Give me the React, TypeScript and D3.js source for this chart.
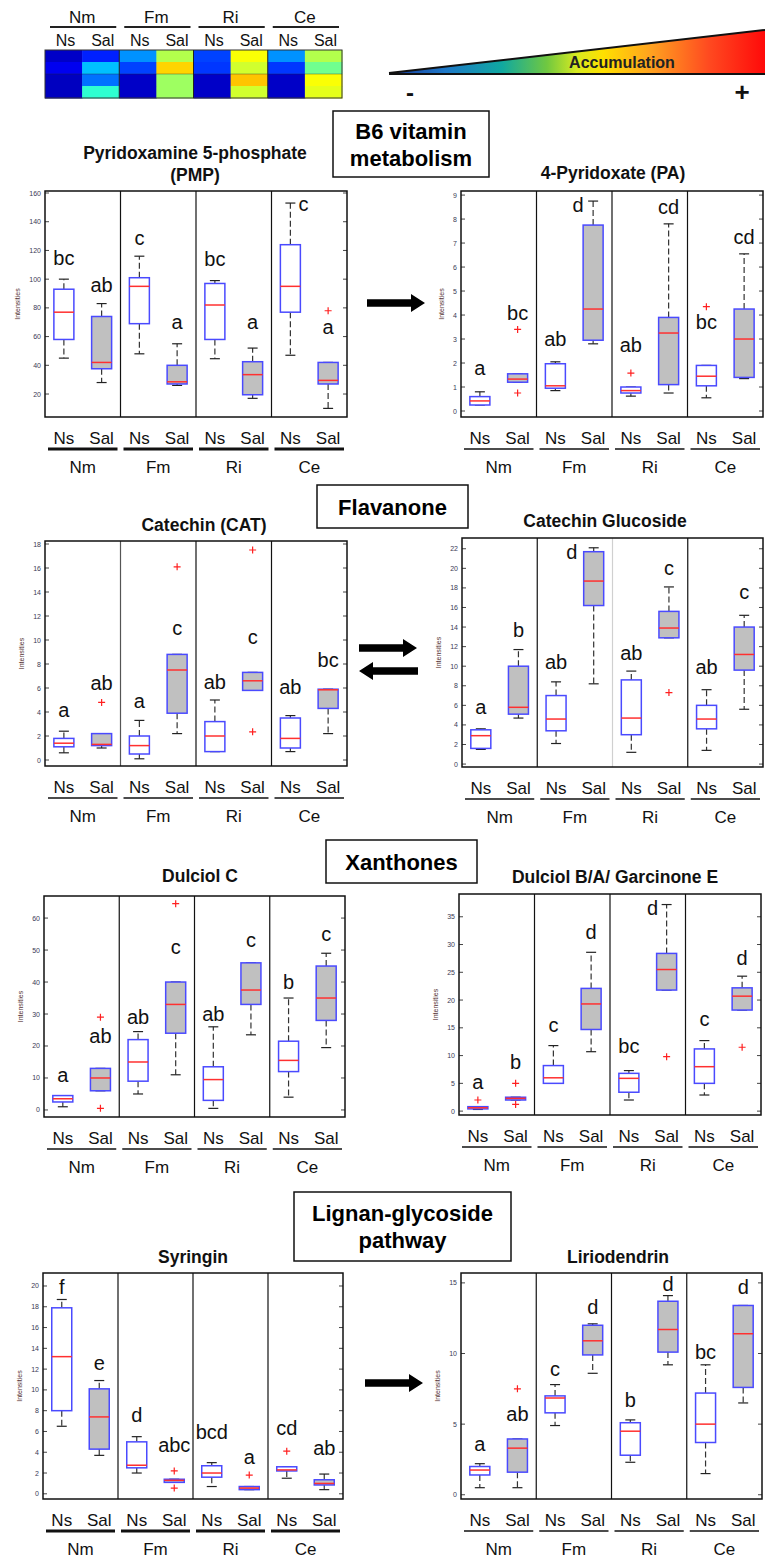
import React from "react";
import * as d3 from "d3";

// ---------------- DATA ----------------
const groups = ["Nm", "Fm", "Ri", "Ce"];
const treatments = ["Ns", "Sal"];

// heatmap values (0..1, jet colormap), 4 metabolites x 8 samples
const heatRow1 = [0.07, 0.156, 0.268, 0.55, 0.19, 0.62, 0.268, 0.55];
const heatRow2 = [0.11, 0.313, 0.19, 0.667, 0.178, 0.58, 0.178, 0.485];
const heatRow3 = [0.063, 0.237, 0.07, 0.53, 0.07, 0.683, 0.07, 0.62];
const heatRow4 = [0.063, 0.42, 0.07, 0.53, 0.07, 0.58, 0.07, 0.6];

// Pyridoxamine 5-phosphate (PMP)
const pmpLow = [45, 28, 48, 26, 44.6, 17, 47, 10];
const pmpQ1 = [58, 37.6, 69, 27, 58, 19.5, 77, 27];
const pmpMed = [77, 42, 95, 28.5, 82, 33.5, 95, 29.5];
const pmpQ3 = [93, 74, 101, 40, 97, 42.5, 124, 42];
const pmpHigh = [100, 83, 116, 55, 99, 52, 153, 42];
const pmpOut = [[], [], [], [], [], [], [], [78]];
const pmpLetters = ["bc", "ab", "c", "a", "bc", "a", "c", "a"];
const pmpLetterAt = [115, 96, 129, 70, 114, 70, 152.3, 66.6];

// 4-Pyridoxate (PA)
const paLow = [0.25, 1.2, 0.85, 2.8, 0.62, 0.75, 0.55, 1.35];
const paQ1 = [0.25, 1.2, 0.95, 2.95, 0.75, 1.1, 1.05, 1.4];
const paMed = [0.42, 1.33, 1.05, 4.25, 0.85, 3.25, 1.45, 3.0];
const paQ3 = [0.6, 1.55, 1.97, 7.75, 1.0, 3.9, 1.9, 4.25];
const paHigh = [0.8, 1.55, 2.05, 8.75, 1.0, 7.8, 1.9, 6.55];
const paOut = [[], [0.75, 3.4], [], [], [1.58], [], [4.35], []];
const paLetters = ["a", "bc", "ab", "d", "ab", "cd", "bc", "cd"];
const paLetterAt = [1.8, 4.1, 3.0, 8.6, 2.75, 8.5, 3.7, 7.25];

// Catechin (CAT)
const catLow = [0.6, 1.0, 0.1, 2.2, 0.7, 5.8, 0.7, 2.2];
const catQ1 = [1.1, 1.2, 0.5, 3.9, 0.7, 5.8, 1.0, 4.3];
const catMed = [1.4, 1.3, 1.2, 7.5, 2.0, 6.6, 1.8, 5.85];
const catQ3 = [1.8, 2.2, 2.0, 8.8, 3.2, 7.3, 3.5, 5.9];
const catHigh = [2.4, 2.2, 3.3, 8.8, 5.0, 7.3, 3.7, 5.9];
const catOut = [[], [4.8], [], [16.1], [], [17.5, 2.35], [], []];
const catLetters = ["a", "ab", "a", "c", "ab", "c", "ab", "bc"];
const catLetterAt = [4.2, 6.4, 4.9, 11, 6.5, 10.25, 6.1, 8.3];

// Catechin Glucoside
const cgLow = [1.5, 4.7, 2.1, 8.2, 1.2, 12.9, 1.4, 5.6];
const cgQ1 = [1.6, 5.1, 3.4, 16.2, 3.0, 12.9, 3.6, 9.6];
const cgMed = [2.9, 5.8, 4.6, 18.7, 4.7, 13.9, 4.6, 11.2];
const cgQ3 = [3.5, 10.0, 7.0, 21.7, 8.6, 15.6, 6.0, 14.0];
const cgHigh = [3.6, 11.7, 8.4, 22.1, 9.5, 18.1, 7.6, 15.2];
const cgOut = [[], [], [], [], [], [7.3], [], []];
const cgLetters = ["a", "b", "ab", "d", "ab", "c", "ab", "c"];
const cgLetterAt = [5.8, 13.7, 10.4, 21.7, 11.35, 20, 9.9, 17.6];

// Dulciol C
const dcLow = [1, 6, 5, 11, 0.5, 23.5, 4, 19.5];
const dcQ1 = [2.5, 6, 9, 24, 3, 33, 12, 28];
const dcMed = [3.5, 10, 15, 33, 9.5, 37.5, 15.5, 35];
const dcQ3 = [4.5, 13, 22, 40, 13.5, 46, 21.5, 45];
const dcHigh = [4.5, 13, 24.5, 40, 26, 46, 35, 49];
const dcOut = [[], [29, 0.5], [], [64.5], [], [], [], []];
const dcLetters = ["a", "ab", "ab", "c", "ab", "c", "b", "c"];
const dcLetterAt = [11, 23, 29, 51, 30, 53, 40, 55];

// Dulciol B/A/ Garcinone E
const dbLow = [0.3, 2.0, 5.0, 10.7, 2.0, 21.8, 2.9, 18.2];
const dbQ1 = [0.4, 2.0, 5.0, 14.7, 3.4, 21.8, 5.0, 18.2];
const dbMed = [0.6, 2.3, 6.0, 19.3, 5.9, 25.5, 8.0, 20.7];
const dbQ3 = [0.8, 2.5, 8.2, 22.1, 6.8, 28.4, 11.2, 22.2];
const dbHigh = [0.8, 2.5, 11.8, 28.6, 7.3, 37.2, 12.7, 24.3];
const dbOut = [[2.0], [5.0, 1.2], [], [], [], [9.8], [], [11.5]];
const dbLetters = ["a", "b", "c", "d", "bc", "d", "c", "d"];
const dbLetterAt = [5.2, 8.8, 15.5, 32.2, 11.7, 36.5, 16.6, 27.6];

// Syringin
const syLow = [6.5, 3.7, 2.0, 1.1, 0.7, 0.4, 1.5, 0.4];
const syQ1 = [8.0, 4.3, 2.5, 1.1, 1.6, 0.4, 2.2, 0.85];
const syMed = [13.2, 7.4, 2.75, 1.3, 2.0, 0.55, 2.3, 1.0];
const syQ3 = [17.9, 10.1, 5.0, 1.4, 2.7, 0.7, 2.6, 1.35];
const syHigh = [18.7, 10.9, 5.5, 1.4, 3.0, 0.7, 2.6, 1.9];
const syOut = [[], [], [], [2.2, 0.55], [], [1.8], [4.1], []];
const syLetters = ["f", "e", "d", "abc", "bcd", "a", "cd", "ab"];
const syLetterAt = [19.9, 12.6, 7.6, 4.7, 5.9, 3.5, 6.3, 4.4];

// Liriodendrin
const liLow = [0.5, 0.5, 4.9, 8.6, 2.3, 9.2, 1.5, 6.5];
const liQ1 = [1.4, 1.6, 5.8, 9.9, 2.8, 10.1, 3.7, 7.6];
const liMed = [1.75, 3.3, 6.85, 10.9, 4.5, 11.7, 5.0, 11.4];
const liQ3 = [2.0, 3.95, 7.0, 12.0, 5.1, 13.7, 7.2, 13.4];
const liHigh = [2.2, 3.95, 7.8, 12.1, 5.3, 14.1, 9.2, 13.4];
const liOut = [[], [7.5], [], [], [], [], [], []];
const liLetters = ["a", "ab", "c", "d", "b", "d", "bc", "d"];
const liLetterAt = [3.6, 5.7, 8.9, 13.3, 6.7, 14.9, 10.1, 14.7];

// ---------------- LAYOUT / STYLE ----------------
const FONT = "'Liberation Sans', Arial, Helvetica, sans-serif";

type Panel = {
  title: string[];
  titleX: number;
  titleY: number[];
  left: number;
  top: number;
  right: number;
  bottom: number;
  domain: [number, number];
  ticks: number[];
  low: number[];
  q1: number[];
  med: number[];
  q3: number[];
  high: number[];
  out: number[][];
  letters: string[];
  letterAt: number[];
  letterDx: number[];
  thick: boolean;
  sepColors: string[];
};

const zeroDx = [0, 0, 0, 0, 0, 0, 0, 0];
const blackSeps = ["#111", "#111", "#111"];

const panels: Panel[] = [
  {
    title: ["Pyridoxamine 5-phosphate", "(PMP)"], titleX: 195, titleY: [153, 175],
    left: 45, top: 191, right: 347, bottom: 417, domain: [4, 161.4],
    ticks: d3.range(20, 161, 20),
    low: pmpLow, q1: pmpQ1, med: pmpMed, q3: pmpQ3, high: pmpHigh, out: pmpOut,
    letters: pmpLetters, letterAt: pmpLetterAt, letterDx: [0, 0, 0, 0, 0, 0, 13, 0], thick: true,
    sepColors: blackSeps,
  },
  {
    title: ["4-Pyridoxate (PA)"], titleX: 613, titleY: [173],
    left: 461, top: 191, right: 763, bottom: 417, domain: [-0.25, 9.17],
    ticks: d3.range(0, 10, 1),
    low: paLow, q1: paQ1, med: paMed, q3: paQ3, high: paHigh, out: paOut,
    letters: paLetters, letterAt: paLetterAt, letterDx: [0, 0, 0, -15, 0, 0, 0, 0], thick: false,
    sepColors: blackSeps,
  },
  {
    title: ["Catechin (CAT)"], titleX: 204, titleY: [525],
    left: 45, top: 541, right: 347, bottom: 766, domain: [-0.5, 18.25],
    ticks: d3.range(0, 19, 2),
    low: catLow, q1: catQ1, med: catMed, q3: catQ3, high: catHigh, out: catOut,
    letters: catLetters, letterAt: catLetterAt, letterDx: zeroDx, thick: false,
    sepColors: ["#555", "#111", "#111"],
  },
  {
    title: ["Catechin Glucoside"], titleX: 605, titleY: [521],
    left: 462, top: 538, right: 763, bottom: 767, domain: [-0.3, 23.1],
    ticks: d3.range(0, 23, 2),
    low: cgLow, q1: cgQ1, med: cgMed, q3: cgQ3, high: cgHigh, out: cgOut,
    letters: cgLetters, letterAt: cgLetterAt, letterDx: [0, 0, 0, -22, 0, 0, 0, 0], thick: false,
    sepColors: ["#111", "#d0d0d0", "#111"],
  },
  {
    title: ["Dulciol C"], titleX: 200, titleY: [876],
    left: 44, top: 896, right: 345, bottom: 1117, domain: [-2.2, 66.9],
    ticks: d3.range(0, 61, 10),
    low: dcLow, q1: dcQ1, med: dcMed, q3: dcQ3, high: dcHigh, out: dcOut,
    letters: dcLetters, letterAt: dcLetterAt, letterDx: zeroDx, thick: false,
    sepColors: blackSeps,
  },
  {
    title: ["Dulciol B/A/ Garcinone E"], titleX: 615, titleY: [877],
    left: 459, top: 894, right: 761, bottom: 1115, domain: [-0.7, 39.1],
    ticks: d3.range(0, 36, 5),
    low: dbLow, q1: dbQ1, med: dbMed, q3: dbQ3, high: dbHigh, out: dbOut,
    letters: dbLetters, letterAt: dbLetterAt, letterDx: [0, 0, 0, 0, 0, -14, 0, 0], thick: false,
    sepColors: blackSeps,
  },
  {
    title: ["Syringin"], titleX: 193, titleY: [1257],
    left: 43, top: 1273, right: 343, bottom: 1499, domain: [-0.5, 21.25],
    ticks: d3.range(0, 21, 2),
    low: syLow, q1: syQ1, med: syMed, q3: syQ3, high: syHigh, out: syOut,
    letters: syLetters, letterAt: syLetterAt, letterDx: zeroDx, thick: true,
    sepColors: blackSeps,
  },
  {
    title: ["Liriodendrin"], titleX: 618, titleY: [1257],
    left: 461, top: 1273, right: 762, bottom: 1499, domain: [-0.3, 15.7],
    ticks: [0, 5, 10, 15],
    low: liLow, q1: liQ1, med: liMed, q3: liQ3, high: liHigh, out: liOut,
    letters: liLetters, letterAt: liLetterAt, letterDx: zeroDx, thick: false,
    sepColors: blackSeps,
  },
];

const jet = d3
  .scaleLinear<string>()
  .domain([0, 0.125, 0.375, 0.625, 0.875, 1])
  .range(["#00007f", "#0000ff", "#00ffff", "#ffff00", "#ff0000", "#7f0000"]);

function BoxPanel({ p }: { p: Panel }) {
  const y = d3.scaleLinear().domain(p.domain).range([p.bottom, p.top]);
  const gx = d3.scaleBand().domain(groups).range([p.left, p.right]).padding(0);
  const bw = gx.bandwidth();
  const tx = d3.scalePoint().domain(treatments).range([0, bw]).padding(0.5);
  const boxHalf = 10;
  const capHalf = 5;
  const maxChars = d3.max(p.ticks, (t) => String(t).length) || 1;
  const yLabelX = p.left - (15 + 4.3 * maxChars);
  const items = groups.flatMap((g, gi) =>
    treatments.map((t, ti) => ({ g, t, i: gi * 2 + ti, cx: (gx(g) || 0) + (tx(t) || 0) }))
  );
  return (
    <g>
      {p.title.map((line, k) => (
        <text key={k} x={p.titleX} y={p.titleY[k]} textAnchor="middle" dominantBaseline="central"
          fontFamily={FONT} fontWeight="bold" fontSize={17.5} fill="#111">{line}</text>
      ))}
      {/* boxes */}
      {items.map(({ i, t, cx }) => {
        const lo = p.low[i], q1 = p.q1[i], md = p.med[i], q3 = p.q3[i], hi = p.high[i];
        return (
          <g key={i}>
            {hi > q3 && (
              <line x1={cx} x2={cx} y1={y(q3)} y2={y(hi)} stroke="#333" strokeWidth={1.2} strokeDasharray="6,3" />
            )}
            {lo < q1 && (
              <line x1={cx} x2={cx} y1={y(q1)} y2={y(lo)} stroke="#333" strokeWidth={1.2} strokeDasharray="6,3" />
            )}
            <line x1={cx - capHalf} x2={cx + capHalf} y1={y(hi)} y2={y(hi)} stroke="#222" strokeWidth={1.2} />
            <line x1={cx - capHalf} x2={cx + capHalf} y1={y(lo)} y2={y(lo)} stroke="#222" strokeWidth={1.2} />
            <rect x={cx - boxHalf} y={y(q3)} width={boxHalf * 2} height={Math.max(1, y(q1) - y(q3))}
              fill={t === "Sal" ? "#c0c0c0" : "#ffffff"} stroke="#4a4aff" strokeWidth={1.5} />
            <line x1={cx - boxHalf} x2={cx + boxHalf} y1={y(md)} y2={y(md)} stroke="#ff3030" strokeWidth={1.5} />
            {p.out[i].map((o, k) => (
              <path key={k} d={`M${cx - 3.5},${y(o)}h7M${cx},${y(o) - 3.5}v7`} stroke="#ff2020" strokeWidth={1.2} />
            ))}
            <text x={cx + p.letterDx[i]} y={y(p.letterAt[i])} textAnchor="middle" dominantBaseline="central"
              fontFamily={FONT} fontSize={20} fill="#111">{p.letters[i]}</text>
          </g>
        );
      })}
      {/* separators */}
      {groups.slice(1).map((g, k) => (
        <line key={g} x1={gx(g)} x2={gx(g)} y1={p.top} y2={p.bottom} stroke={p.sepColors[k]} strokeWidth={1.2} />
      ))}
      {/* ticks */}
      {p.ticks.map((t) => (
        <g key={t}>
          <line x1={p.left} x2={p.left + 4} y1={y(t)} y2={y(t)} stroke="#444" strokeWidth={1} />
          <line x1={p.right - 4} x2={p.right} y1={y(t)} y2={y(t)} stroke="#444" strokeWidth={1} />
          <text x={p.left - 4} y={y(t)} textAnchor="end" dominantBaseline="central" fontFamily={FONT}
            fontSize={7} fill="#3a3a55">{t}</text>
        </g>
      ))}
      <rect x={p.left} y={p.top} width={p.right - p.left} height={p.bottom - p.top} fill="none"
        stroke="#111" strokeWidth={1.5} />
      <text transform={`translate(${yLabelX},${(p.top + p.bottom) / 2}) rotate(-90)`} textAnchor="middle"
        dominantBaseline="central" fontFamily={FONT} fontSize={7} fill="#553333">Intensities</text>
      {/* x labels */}
      {items.map(({ i, t, cx }) => (
        <text key={"l" + i} x={cx} y={p.bottom + 21} textAnchor="middle" dominantBaseline="central"
          fontFamily={FONT} fontSize={17} fill="#111">{t}</text>
      ))}
      {groups.map((g) => (
        <g key={"u" + g}>
          <line x1={(gx(g) || 0) + 3} x2={(gx(g) || 0) + bw - 3} y1={p.bottom + 32} y2={p.bottom + 32}
            stroke="#111" strokeWidth={p.thick ? 3 : 1.5} />
          <text x={(gx(g) || 0) + bw / 2} y={p.bottom + 50} textAnchor="middle" dominantBaseline="central"
            fontFamily={FONT} fontSize={17} fill="#111">{g}</text>
        </g>
      ))}
    </g>
  );
}

function BlockArrow({ x1, x2, y }: { x1: number; x2: number; y: number }) {
  const dir = x2 > x1 ? 1 : -1;
  const head = 14;
  const sh = 3.8;
  const hh = 9;
  const xb = x2 - dir * head;
  const d = `M${x1},${y - sh}L${xb},${y - sh}L${xb},${y - hh}L${x2},${y}L${xb},${y + hh}L${xb},${y + sh}L${x1},${y + sh}Z`;
  return <path d={d} fill="#000" />;
}

function SectionBox({ x, y, w, h, lines, lineY }: { x: number; y: number; w: number; h: number; lines: string[]; lineY: number[] }) {
  return (
    <g>
      <rect x={x} y={y} width={w} height={h} fill="#fff" stroke="#111" strokeWidth={1.5} />
      {lines.map((l, k) => (
        <text key={k} x={x + w / 2} y={lineY[k]} textAnchor="middle" dominantBaseline="central"
          fontFamily={FONT} fontWeight="bold" fontSize={22} fill="#000">{l}</text>
      ))}
    </g>
  );
}

function Heatmap() {
  const rows = [heatRow1, heatRow2, heatRow3, heatRow4];
  const cols = groups.flatMap((g) => treatments.map((t) => g + "-" + t));
  const x = d3.scaleBand().domain(cols).range([45, 342]);
  const y = d3.scaleBand().domain(d3.range(4).map(String)).range([50, 98]);
  const gx = d3.scaleBand().domain(groups).range([45, 342]);
  return (
    <g>
      {rows.map((r, ri) =>
        r.map((v, ci) => (
          <rect key={ri + "-" + ci} x={x(cols[ci])} y={y(String(ri))} width={x.bandwidth() + 0.5}
            height={y.bandwidth() + 0.5} fill={jet(v)} />
        ))
      )}
      <rect x={45} y={50} width={297} height={48} fill="none" stroke="#333" strokeWidth={1} />
      {groups.slice(1).map((g) => (
        <line key={g} x1={gx(g)} x2={gx(g)} y1={50} y2={98} stroke="#222" strokeWidth={1} />
      ))}
      <line x1={45} x2={342} y1={74} y2={74} stroke="#223" strokeWidth={0.6} opacity={0.6} />
      {groups.map((g) => (
        <g key={g}>
          <text x={(gx(g) || 0) + gx.bandwidth() / 2} y={17} textAnchor="middle" dominantBaseline="central"
            fontFamily={FONT} fontSize={17} fill="#111">{g}</text>
          <line x1={(gx(g) || 0) + 5} x2={(gx(g) || 0) + gx.bandwidth() - 3} y1={27} y2={27} stroke="#222" strokeWidth={1.8} />
        </g>
      ))}
      {cols.map((c) => (
        <text key={c} x={(x(c) || 0) + x.bandwidth() / 2 + 2} y={40} textAnchor="middle" dominantBaseline="central"
          fontFamily={FONT} fontSize={16} fill="#111">{c.split("-")[1]}</text>
      ))}
    </g>
  );
}

function GradientLegend() {
  return (
    <g>
      <defs>
        <linearGradient id="accum" x1="389" x2="765" y1="0" y2="0" gradientUnits="userSpaceOnUse">
          <stop offset="0" stopColor="#1a3a9a" />
          <stop offset="0.15" stopColor="#1e78c8" />
          <stop offset="0.3" stopColor="#10a8a0" />
          <stop offset="0.42" stopColor="#70c840" />
          <stop offset="0.5" stopColor="#d8ea20" />
          <stop offset="0.57" stopColor="#ffe000" />
          <stop offset="0.7" stopColor="#ffa020" />
          <stop offset="0.85" stopColor="#ff4a20" />
          <stop offset="1" stopColor="#ff0a0a" />
        </linearGradient>
      </defs>
      <polygon points="389,73 765,30 765,74" fill="url(#accum)" />
      <line x1={389} y1={73} x2={765} y2={30} stroke="#111" strokeWidth={2} />
      <line x1={389} y1={74} x2={765} y2={74} stroke="#111" strokeWidth={2} />
      <text x={622} y={62} textAnchor="middle" dominantBaseline="central" fontFamily={FONT} fontWeight="bold"
        fontSize={16} fill="#222">Accumulation</text>
      <text x={410} y={92} textAnchor="middle" dominantBaseline="central" fontFamily={FONT} fontWeight="bold"
        fontSize={24} fill="#111">-</text>
      <text x={742} y={92} textAnchor="middle" dominantBaseline="central" fontFamily={FONT} fontWeight="bold"
        fontSize={26} fill="#111">+</text>
    </g>
  );
}

export default function App() {
  return (
    <svg width={765} height={1558} viewBox="0 0 765 1558"
      style={{ position: "absolute", left: 0, top: 0, background: "#fff" }}>
      <rect x={0} y={0} width={765} height={1558} fill="#fff" />
      <Heatmap />
      <GradientLegend />
      <SectionBox x={333} y={111} w={156} h={66} lines={["B6 vitamin", "metabolism"]} lineY={[131, 158]} />
      <SectionBox x={317} y={485} w={151} h={43} lines={["Flavanone"]} lineY={[507]} />
      <SectionBox x={326} y={840} w={151} h={43} lines={["Xanthones"]} lineY={[862]} />
      <SectionBox x={294} y={1192} w={217} h={69} lines={["Lignan-glycoside", "pathway"]} lineY={[1213, 1240]} />
      {panels.map((p, k) => (
        <BoxPanel key={k} p={p} />
      ))}
      <BlockArrow x1={367} x2={425} y={303} />
      <BlockArrow x1={359} x2={417} y={648} />
      <BlockArrow x1={418} x2={359} y={671} />
      <BlockArrow x1={365} x2={423} y={1383} />
    </svg>
  );
}
